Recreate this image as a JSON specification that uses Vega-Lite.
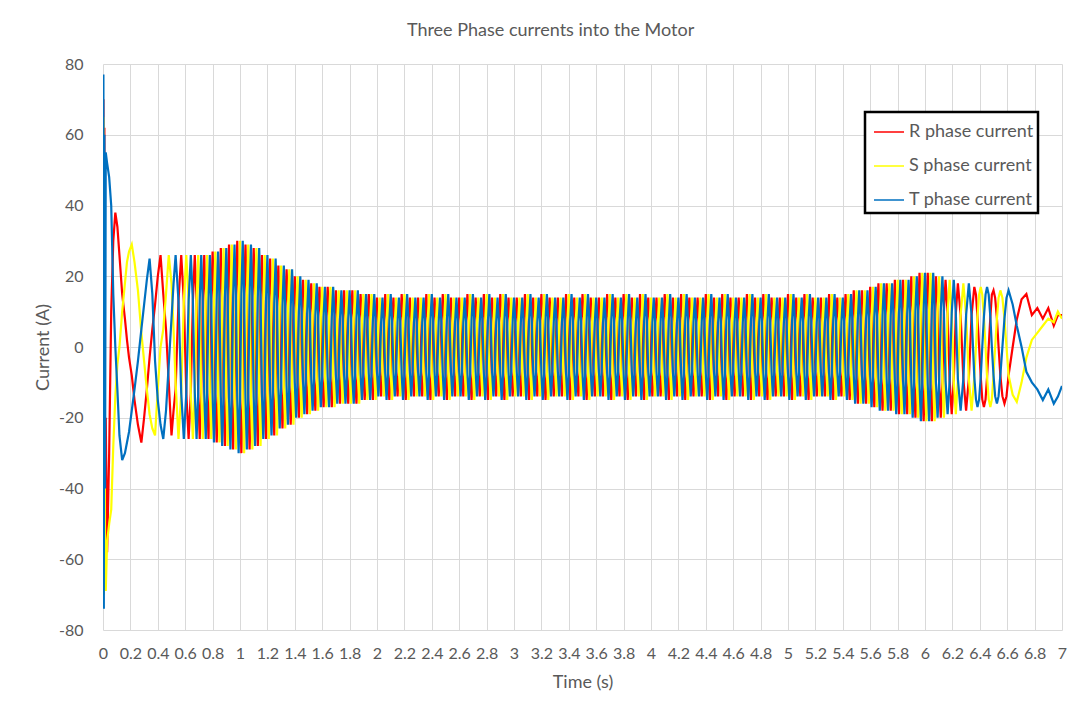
{
"$schema": "https://vega.github.io/schema/vega-lite/v6.json",
"width": 959,
"height": 566,
"autosize": {"type": "none"},
"padding": {"left": 103, "top": 64, "right": 16, "bottom": 81},
"background": "white",
"title": {"text": "Three Phase currents into the Motor", "fontSize": 18, "font": "Lato", "fontWeight": "normal", "color": "#595959", "anchor": "middle", "frame": "bounds", "offset": 16},
"data": {"values": [
{"t":0,"R":0,"S":0,"T":0},{"t":0.003,"R":70,"S":65,"T":77},{"t":0.006,"R":-30,"S":-70,"T":-74},{"t":0.01,"R":62,"S":20,"T":60},{"t":0.015,"R":-50,"S":-60,"T":-40},{"t":0.02,"R":-20,"S":-69,"T":55},{"t":0.03,"R":-58,"S":-55,"T":52},{"t":0.045,"R":-30,"S":-50,"T":48},{"t":0.06,"R":10,"S":-46,"T":40},{"t":0.075,"R":30,"S":-28,"T":15},
{"t":0.09,"R":38,"S":-14,"T":0},{"t":0.105,"R":34,"S":-5,"T":-12},{"t":0.12,"R":26,"S":0,"T":-25},{"t":0.14,"R":15,"S":10,"T":-32},{"t":0.16,"R":8,"S":18,"T":-30},{"t":0.175,"R":2,"S":24,"T":-27},{"t":0.19,"R":-3,"S":27,"T":-24},{"t":0.21,"R":-8,"S":29,"T":-18},{"t":0.23,"R":-15,"S":24,"T":-12},{"t":0.255,"R":-22,"S":16,"T":-4},
{"t":0.28,"R":-27,"S":4,"T":5},{"t":0.3,"R":-20,"S":-4,"T":12},{"t":0.32,"R":-12,"S":-12,"T":19},{"t":0.34,"R":-3,"S":-19,"T":25},{"t":0.36,"R":5,"S":-23,"T":15},{"t":0.38,"R":12,"S":-25,"T":-4},{"t":0.4,"R":20,"S":-12,"T":-15},{"t":0.42,"R":26,"S":0,"T":-22},{"t":0.44,"R":15,"S":5,"T":-26},{"t":0.46,"R":5,"S":15,"T":-18},
{"t":0.48,"R":-10,"S":26,"T":-5},{"t":0.5,"R":-25,"S":18,"T":8},{"t":0.515,"R":-18,"S":5,"T":18},{"t":0.53,"R":-12,"S":-10,"T":26},
{"t":0.551,"R":13,"S":-26,"T":13},{"t":0.571,"R":26,"S":-13,"T":-13},{"t":0.59,"R":13,"S":13,"T":-26},{"t":0.608,"R":-13,"S":26,"T":-13},{"t":0.625,"R":-26,"S":13,"T":13},{"t":0.641,"R":-13,"S":-13,"T":26},
{"t":0.656,"R":13,"S":-26,"T":13},{"t":0.67,"R":26,"S":-13,"T":-13},{"t":0.683,"R":13,"S":13,"T":-26},{"t":0.695,"R":-13,"S":26,"T":-13},{"t":0.706,"R":-26,"S":13,"T":13},{"t":0.717,"R":-13,"S":-13,"T":26},
{"t":0.728,"R":13,"S":-26,"T":13},{"t":0.739,"R":26,"S":-13,"T":-13},
{"t":0.75,"R":13,"S":13,"T":-26},{"t":0.76,"R":-13,"S":26,"T":-13},{"t":0.77,"R":-26,"S":13,"T":13},{"t":0.78,"R":-13,"S":-13,"T":26},{"t":0.79,"R":13,"S":-26,"T":13},
{"t":0.8,"R":27,"S":-13.5,"T":-13.5},{"t":0.81,"R":13.5,"S":13.5,"T":-27},{"t":0.82,"R":-13.5,"S":27,"T":-13.5},{"t":0.83,"R":-27,"S":13.5,"T":13.5},{"t":0.84,"R":-13.5,"S":-13.5,"T":27},{"t":0.85,"R":13.5,"S":-27,"T":13.5},
{"t":0.86,"R":28,"S":-14,"T":-14},{"t":0.87,"R":14,"S":14,"T":-28},{"t":0.88,"R":-14,"S":28,"T":-14},{"t":0.89,"R":-28,"S":14,"T":14},{"t":0.9,"R":-14,"S":-14,"T":28},{"t":0.91,"R":14,"S":-28,"T":14},
{"t":0.92,"R":29,"S":-14.5,"T":-14.5},{"t":0.93,"R":14.5,"S":14.5,"T":-29},{"t":0.94,"R":-14.5,"S":29,"T":-14.5},{"t":0.95,"R":-29,"S":14.5,"T":14.5},{"t":0.96,"R":-14.5,"S":-14.5,"T":29},{"t":0.97,"R":14.5,"S":-29,"T":14.5},
{"t":0.98,"R":30,"S":-15,"T":-15},{"t":0.99,"R":15,"S":15,"T":-30},{"t":1,"R":-15,"S":30,"T":-15},{"t":1.01,"R":-30,"S":15,"T":15},{"t":1.02,"R":-15,"S":-15,"T":30},{"t":1.03,"R":15,"S":-30,"T":15},
{"t":1.04,"R":29,"S":-14.5,"T":-14.5},{"t":1.05,"R":14.5,"S":14.5,"T":-29},{"t":1.06,"R":-14.5,"S":29,"T":-14.5},{"t":1.07,"R":-29,"S":14.5,"T":14.5},{"t":1.08,"R":-14.5,"S":-14.5,"T":29},{"t":1.09,"R":14.5,"S":-29,"T":14.5},
{"t":1.1,"R":28,"S":-14,"T":-14},{"t":1.11,"R":14,"S":14,"T":-28},{"t":1.12,"R":-14,"S":28,"T":-14},{"t":1.13,"R":-28,"S":14,"T":14},{"t":1.14,"R":-14,"S":-14,"T":28},{"t":1.15,"R":14,"S":-28,"T":14},
{"t":1.16,"R":26,"S":-13,"T":-13},{"t":1.17,"R":13,"S":13,"T":-26},{"t":1.18,"R":-13,"S":26,"T":-13},{"t":1.19,"R":-26,"S":13,"T":13},{"t":1.2,"R":-13,"S":-13,"T":26},{"t":1.21,"R":13,"S":-26,"T":13},
{"t":1.22,"R":25,"S":-12.5,"T":-12.5},{"t":1.23,"R":12.5,"S":12.5,"T":-25},{"t":1.24,"R":-12.5,"S":25,"T":-12.5},{"t":1.25,"R":-25,"S":12.5,"T":12.5},{"t":1.26,"R":-12.5,"S":-12.5,"T":25},{"t":1.27,"R":12.5,"S":-25,"T":12.5},
{"t":1.28,"R":23,"S":-11.5,"T":-11.5},{"t":1.29,"R":11.5,"S":11.5,"T":-23},{"t":1.3,"R":-11.5,"S":23,"T":-11.5},{"t":1.31,"R":-23,"S":11.5,"T":11.5},{"t":1.32,"R":-11.5,"S":-11.5,"T":23},{"t":1.33,"R":11.5,"S":-23,"T":11.5},
{"t":1.34,"R":22,"S":-11,"T":-11},{"t":1.35,"R":11,"S":11,"T":-22},{"t":1.36,"R":-11,"S":22,"T":-11},{"t":1.37,"R":-22,"S":11,"T":11},{"t":1.38,"R":-11,"S":-11,"T":22},{"t":1.39,"R":11,"S":-22,"T":11},
{"t":1.4,"R":20,"S":-10,"T":-10},{"t":1.41,"R":10,"S":10,"T":-20},{"t":1.42,"R":-10,"S":20,"T":-10},{"t":1.43,"R":-20,"S":10,"T":10},{"t":1.44,"R":-10,"S":-10,"T":20},{"t":1.45,"R":10,"S":-20,"T":10},
{"t":1.46,"R":19,"S":-9.5,"T":-9.5},{"t":1.47,"R":9.5,"S":9.5,"T":-19},{"t":1.48,"R":-9.5,"S":19,"T":-9.5},{"t":1.49,"R":-19,"S":9.5,"T":9.5},{"t":1.5,"R":-9.5,"S":-9.5,"T":19},{"t":1.51,"R":9.5,"S":-19,"T":9.5},
{"t":1.52,"R":18,"S":-9,"T":-9},{"t":1.53,"R":9,"S":9,"T":-18},{"t":1.54,"R":-9,"S":18,"T":-9},{"t":1.55,"R":-18,"S":9,"T":9},{"t":1.56,"R":-9,"S":-9,"T":18},{"t":1.57,"R":9,"S":-18,"T":9},
{"t":1.58,"R":17,"S":-8.5,"T":-8.5},{"t":1.59,"R":8.5,"S":8.5,"T":-17},{"t":1.6,"R":-8.5,"S":17,"T":-8.5},{"t":1.61,"R":-17,"S":8.5,"T":8.5},{"t":1.62,"R":-8.5,"S":-8.5,"T":17},{"t":1.63,"R":8.5,"S":-17,"T":8.5},
{"t":1.64,"R":17,"S":-8.5,"T":-8.5},{"t":1.65,"R":8.5,"S":8.5,"T":-17},{"t":1.66,"R":-8.5,"S":17,"T":-8.5},{"t":1.67,"R":-17,"S":8.5,"T":8.5},{"t":1.68,"R":-8.5,"S":-8.5,"T":17},{"t":1.69,"R":8.5,"S":-17,"T":8.5},
{"t":1.7,"R":16,"S":-8,"T":-8},{"t":1.71,"R":8,"S":8,"T":-16},{"t":1.72,"R":-8,"S":16,"T":-8},{"t":1.73,"R":-16,"S":8,"T":8},{"t":1.74,"R":-8,"S":-8,"T":16},{"t":1.75,"R":8,"S":-16,"T":8},
{"t":1.76,"R":16,"S":-8,"T":-8},{"t":1.77,"R":8,"S":8,"T":-16},{"t":1.78,"R":-8,"S":16,"T":-8},{"t":1.79,"R":-16,"S":8,"T":8},{"t":1.8,"R":-8,"S":-8,"T":16},{"t":1.81,"R":8,"S":-16,"T":8},
{"t":1.82,"R":16,"S":-8,"T":-8},{"t":1.83,"R":8,"S":8,"T":-16},{"t":1.84,"R":-8,"S":16,"T":-8},{"t":1.85,"R":-16,"S":8,"T":8},{"t":1.86,"R":-8,"S":-8,"T":16},{"t":1.87,"R":8,"S":-16,"T":8},
{"t":1.88,"R":15,"S":-7.5,"T":-7.5},{"t":1.89,"R":7.5,"S":7.5,"T":-15},{"t":1.9,"R":-7.5,"S":15,"T":-7.5},{"t":1.91,"R":-15,"S":7.5,"T":7.5},{"t":1.92,"R":-7.5,"S":-7.5,"T":15},{"t":1.93,"R":7.5,"S":-15,"T":7.5},
{"t":1.94,"R":15,"S":-7.5,"T":-7.5},{"t":1.95,"R":7.5,"S":7.5,"T":-15},{"t":1.96,"R":-7.5,"S":15,"T":-7.5},{"t":1.97,"R":-15,"S":7.5,"T":7.5},{"t":1.98,"R":-7.5,"S":-7.5,"T":15},{"t":1.99,"R":7.5,"S":-15,"T":7.5},
{"t":2,"R":14,"S":-7,"T":-7},{"t":2.01,"R":7,"S":7,"T":-14},{"t":2.02,"R":-7,"S":14,"T":-7},{"t":2.03,"R":-14,"S":7,"T":7},{"t":2.04,"R":-7,"S":-7,"T":14},{"t":2.05,"R":7,"S":-14,"T":7},
{"t":2.06,"R":15,"S":-7.5,"T":-7.5},{"t":2.07,"R":7.5,"S":7.5,"T":-15},{"t":2.08,"R":-7.5,"S":15,"T":-7.5},{"t":2.09,"R":-15,"S":7.5,"T":7.5},{"t":2.1,"R":-7.5,"S":-7.5,"T":15},{"t":2.11,"R":7.5,"S":-15,"T":7.5},
{"t":2.12,"R":14,"S":-7,"T":-7},{"t":2.13,"R":7,"S":7,"T":-14},{"t":2.14,"R":-7,"S":14,"T":-7},{"t":2.15,"R":-14,"S":7,"T":7},{"t":2.16,"R":-7,"S":-7,"T":14},{"t":2.17,"R":7,"S":-14,"T":7},
{"t":2.18,"R":15,"S":-7.5,"T":-7.5},{"t":2.19,"R":7.5,"S":7.5,"T":-15},{"t":2.2,"R":-7.5,"S":15,"T":-7.5},{"t":2.21,"R":-15,"S":7.5,"T":7.5},{"t":2.22,"R":-7.5,"S":-7.5,"T":15},{"t":2.23,"R":7.5,"S":-15,"T":7.5},
{"t":2.24,"R":14,"S":-7,"T":-7},{"t":2.25,"R":7,"S":7,"T":-14},{"t":2.26,"R":-7,"S":14,"T":-7},{"t":2.27,"R":-14,"S":7,"T":7},{"t":2.28,"R":-7,"S":-7,"T":14},{"t":2.29,"R":7,"S":-14,"T":7},
{"t":2.3,"R":14,"S":-7,"T":-7},{"t":2.31,"R":7,"S":7,"T":-14},{"t":2.32,"R":-7,"S":14,"T":-7},{"t":2.33,"R":-14,"S":7,"T":7},{"t":2.34,"R":-7,"S":-7,"T":14},{"t":2.35,"R":7,"S":-14,"T":7},
{"t":2.36,"R":15,"S":-7.5,"T":-7.5},{"t":2.37,"R":7.5,"S":7.5,"T":-15},{"t":2.38,"R":-7.5,"S":15,"T":-7.5},{"t":2.39,"R":-15,"S":7.5,"T":7.5},{"t":2.4,"R":-7.5,"S":-7.5,"T":15},{"t":2.41,"R":7.5,"S":-15,"T":7.5},
{"t":2.42,"R":14,"S":-7,"T":-7},{"t":2.43,"R":7,"S":7,"T":-14},{"t":2.44,"R":-7,"S":14,"T":-7},{"t":2.45,"R":-14,"S":7,"T":7},{"t":2.46,"R":-7,"S":-7,"T":14},{"t":2.47,"R":7,"S":-14,"T":7},
{"t":2.48,"R":15,"S":-7.5,"T":-7.5},{"t":2.49,"R":7.5,"S":7.5,"T":-15},{"t":2.5,"R":-7.5,"S":15,"T":-7.5},{"t":2.51,"R":-15,"S":7.5,"T":7.5},{"t":2.52,"R":-7.5,"S":-7.5,"T":15},{"t":2.53,"R":7.5,"S":-15,"T":7.5},
{"t":2.54,"R":14,"S":-7,"T":-7},{"t":2.55,"R":7,"S":7,"T":-14},{"t":2.56,"R":-7,"S":14,"T":-7},{"t":2.57,"R":-14,"S":7,"T":7},{"t":2.58,"R":-7,"S":-7,"T":14},{"t":2.59,"R":7,"S":-14,"T":7},
{"t":2.6,"R":14,"S":-7,"T":-7},{"t":2.61,"R":7,"S":7,"T":-14},{"t":2.62,"R":-7,"S":14,"T":-7},{"t":2.63,"R":-14,"S":7,"T":7},{"t":2.64,"R":-7,"S":-7,"T":14},{"t":2.65,"R":7,"S":-14,"T":7},
{"t":2.66,"R":15,"S":-7.5,"T":-7.5},{"t":2.67,"R":7.5,"S":7.5,"T":-15},{"t":2.68,"R":-7.5,"S":15,"T":-7.5},{"t":2.69,"R":-15,"S":7.5,"T":7.5},{"t":2.7,"R":-7.5,"S":-7.5,"T":15},{"t":2.71,"R":7.5,"S":-15,"T":7.5},
{"t":2.72,"R":14,"S":-7,"T":-7},{"t":2.73,"R":7,"S":7,"T":-14},{"t":2.74,"R":-7,"S":14,"T":-7},{"t":2.75,"R":-14,"S":7,"T":7},{"t":2.76,"R":-7,"S":-7,"T":14},{"t":2.77,"R":7,"S":-14,"T":7},
{"t":2.78,"R":15,"S":-7.5,"T":-7.5},{"t":2.79,"R":7.5,"S":7.5,"T":-15},{"t":2.8,"R":-7.5,"S":15,"T":-7.5},{"t":2.81,"R":-15,"S":7.5,"T":7.5},{"t":2.82,"R":-7.5,"S":-7.5,"T":15},{"t":2.83,"R":7.5,"S":-15,"T":7.5},
{"t":2.84,"R":14,"S":-7,"T":-7},{"t":2.85,"R":7,"S":7,"T":-14},{"t":2.86,"R":-7,"S":14,"T":-7},{"t":2.87,"R":-14,"S":7,"T":7},{"t":2.88,"R":-7,"S":-7,"T":14},{"t":2.89,"R":7,"S":-14,"T":7},
{"t":2.9,"R":15,"S":-7.5,"T":-7.5},{"t":2.91,"R":7.5,"S":7.5,"T":-15},{"t":2.92,"R":-7.5,"S":15,"T":-7.5},{"t":2.93,"R":-15,"S":7.5,"T":7.5},{"t":2.94,"R":-7.5,"S":-7.5,"T":15},{"t":2.95,"R":7.5,"S":-15,"T":7.5},
{"t":2.96,"R":14,"S":-7,"T":-7},{"t":2.97,"R":7,"S":7,"T":-14},{"t":2.98,"R":-7,"S":14,"T":-7},{"t":2.99,"R":-14,"S":7,"T":7},{"t":3,"R":-7,"S":-7,"T":14},{"t":3.01,"R":7,"S":-14,"T":7},
{"t":3.02,"R":14,"S":-7,"T":-7},{"t":3.03,"R":7,"S":7,"T":-14},{"t":3.04,"R":-7,"S":14,"T":-7},{"t":3.05,"R":-14,"S":7,"T":7},{"t":3.06,"R":-7,"S":-7,"T":14},{"t":3.07,"R":7,"S":-14,"T":7},
{"t":3.08,"R":15,"S":-7.5,"T":-7.5},{"t":3.09,"R":7.5,"S":7.5,"T":-15},{"t":3.1,"R":-7.5,"S":15,"T":-7.5},{"t":3.11,"R":-15,"S":7.5,"T":7.5},{"t":3.12,"R":-7.5,"S":-7.5,"T":15},{"t":3.13,"R":7.5,"S":-15,"T":7.5},
{"t":3.14,"R":14,"S":-7,"T":-7},{"t":3.15,"R":7,"S":7,"T":-14},{"t":3.16,"R":-7,"S":14,"T":-7},{"t":3.17,"R":-14,"S":7,"T":7},{"t":3.18,"R":-7,"S":-7,"T":14},{"t":3.19,"R":7,"S":-14,"T":7},
{"t":3.2,"R":15,"S":-7.5,"T":-7.5},{"t":3.21,"R":7.5,"S":7.5,"T":-15},{"t":3.22,"R":-7.5,"S":15,"T":-7.5},{"t":3.23,"R":-15,"S":7.5,"T":7.5},{"t":3.24,"R":-7.5,"S":-7.5,"T":15},{"t":3.25,"R":7.5,"S":-15,"T":7.5},
{"t":3.26,"R":14,"S":-7,"T":-7},{"t":3.27,"R":7,"S":7,"T":-14},{"t":3.28,"R":-7,"S":14,"T":-7},{"t":3.29,"R":-14,"S":7,"T":7},{"t":3.3,"R":-7,"S":-7,"T":14},{"t":3.31,"R":7,"S":-14,"T":7},
{"t":3.32,"R":14,"S":-7,"T":-7},{"t":3.33,"R":7,"S":7,"T":-14},{"t":3.34,"R":-7,"S":14,"T":-7},{"t":3.35,"R":-14,"S":7,"T":7},{"t":3.36,"R":-7,"S":-7,"T":14},{"t":3.37,"R":7,"S":-14,"T":7},
{"t":3.38,"R":15,"S":-7.5,"T":-7.5},{"t":3.39,"R":7.5,"S":7.5,"T":-15},{"t":3.4,"R":-7.5,"S":15,"T":-7.5},{"t":3.41,"R":-15,"S":7.5,"T":7.5},{"t":3.42,"R":-7.5,"S":-7.5,"T":15},{"t":3.43,"R":7.5,"S":-15,"T":7.5},
{"t":3.44,"R":14,"S":-7,"T":-7},{"t":3.45,"R":7,"S":7,"T":-14},{"t":3.46,"R":-7,"S":14,"T":-7},{"t":3.47,"R":-14,"S":7,"T":7},{"t":3.48,"R":-7,"S":-7,"T":14},{"t":3.49,"R":7,"S":-14,"T":7},
{"t":3.5,"R":15,"S":-7.5,"T":-7.5},{"t":3.51,"R":7.5,"S":7.5,"T":-15},{"t":3.52,"R":-7.5,"S":15,"T":-7.5},{"t":3.53,"R":-15,"S":7.5,"T":7.5},{"t":3.54,"R":-7.5,"S":-7.5,"T":15},{"t":3.55,"R":7.5,"S":-15,"T":7.5},
{"t":3.56,"R":14,"S":-7,"T":-7},{"t":3.57,"R":7,"S":7,"T":-14},{"t":3.58,"R":-7,"S":14,"T":-7},{"t":3.59,"R":-14,"S":7,"T":7},{"t":3.6,"R":-7,"S":-7,"T":14},{"t":3.61,"R":7,"S":-14,"T":7},
{"t":3.62,"R":14,"S":-7,"T":-7},{"t":3.63,"R":7,"S":7,"T":-14},{"t":3.64,"R":-7,"S":14,"T":-7},{"t":3.65,"R":-14,"S":7,"T":7},{"t":3.66,"R":-7,"S":-7,"T":14},{"t":3.67,"R":7,"S":-14,"T":7},
{"t":3.68,"R":15,"S":-7.5,"T":-7.5},{"t":3.69,"R":7.5,"S":7.5,"T":-15},{"t":3.7,"R":-7.5,"S":15,"T":-7.5},{"t":3.71,"R":-15,"S":7.5,"T":7.5},{"t":3.72,"R":-7.5,"S":-7.5,"T":15},{"t":3.73,"R":7.5,"S":-15,"T":7.5},
{"t":3.74,"R":14,"S":-7,"T":-7},{"t":3.75,"R":7,"S":7,"T":-14},{"t":3.76,"R":-7,"S":14,"T":-7},{"t":3.77,"R":-14,"S":7,"T":7},{"t":3.78,"R":-7,"S":-7,"T":14},{"t":3.79,"R":7,"S":-14,"T":7},
{"t":3.8,"R":15,"S":-7.5,"T":-7.5},{"t":3.81,"R":7.5,"S":7.5,"T":-15},{"t":3.82,"R":-7.5,"S":15,"T":-7.5},{"t":3.83,"R":-15,"S":7.5,"T":7.5},{"t":3.84,"R":-7.5,"S":-7.5,"T":15},{"t":3.85,"R":7.5,"S":-15,"T":7.5},
{"t":3.86,"R":14,"S":-7,"T":-7},{"t":3.87,"R":7,"S":7,"T":-14},{"t":3.88,"R":-7,"S":14,"T":-7},{"t":3.89,"R":-14,"S":7,"T":7},{"t":3.9,"R":-7,"S":-7,"T":14},{"t":3.91,"R":7,"S":-14,"T":7},
{"t":3.92,"R":15,"S":-7.5,"T":-7.5},{"t":3.93,"R":7.5,"S":7.5,"T":-15},{"t":3.94,"R":-7.5,"S":15,"T":-7.5},{"t":3.95,"R":-15,"S":7.5,"T":7.5},{"t":3.96,"R":-7.5,"S":-7.5,"T":15},{"t":3.97,"R":7.5,"S":-15,"T":7.5},
{"t":3.98,"R":14,"S":-7,"T":-7},{"t":3.99,"R":7,"S":7,"T":-14},{"t":4,"R":-7,"S":14,"T":-7},{"t":4.01,"R":-14,"S":7,"T":7},{"t":4.02,"R":-7,"S":-7,"T":14},{"t":4.03,"R":7,"S":-14,"T":7},
{"t":4.04,"R":14,"S":-7,"T":-7},{"t":4.05,"R":7,"S":7,"T":-14},{"t":4.06,"R":-7,"S":14,"T":-7},{"t":4.07,"R":-14,"S":7,"T":7},{"t":4.08,"R":-7,"S":-7,"T":14},{"t":4.09,"R":7,"S":-14,"T":7},
{"t":4.1,"R":15,"S":-7.5,"T":-7.5},{"t":4.11,"R":7.5,"S":7.5,"T":-15},{"t":4.12,"R":-7.5,"S":15,"T":-7.5},{"t":4.13,"R":-15,"S":7.5,"T":7.5},{"t":4.14,"R":-7.5,"S":-7.5,"T":15},{"t":4.15,"R":7.5,"S":-15,"T":7.5},
{"t":4.16,"R":14,"S":-7,"T":-7},{"t":4.17,"R":7,"S":7,"T":-14},{"t":4.18,"R":-7,"S":14,"T":-7},{"t":4.19,"R":-14,"S":7,"T":7},{"t":4.2,"R":-7,"S":-7,"T":14},{"t":4.21,"R":7,"S":-14,"T":7},
{"t":4.22,"R":15,"S":-7.5,"T":-7.5},{"t":4.23,"R":7.5,"S":7.5,"T":-15},{"t":4.24,"R":-7.5,"S":15,"T":-7.5},{"t":4.25,"R":-15,"S":7.5,"T":7.5},{"t":4.26,"R":-7.5,"S":-7.5,"T":15},{"t":4.27,"R":7.5,"S":-15,"T":7.5},
{"t":4.28,"R":14,"S":-7,"T":-7},{"t":4.29,"R":7,"S":7,"T":-14},{"t":4.3,"R":-7,"S":14,"T":-7},{"t":4.31,"R":-14,"S":7,"T":7},{"t":4.32,"R":-7,"S":-7,"T":14},{"t":4.33,"R":7,"S":-14,"T":7},
{"t":4.34,"R":14,"S":-7,"T":-7},{"t":4.35,"R":7,"S":7,"T":-14},{"t":4.36,"R":-7,"S":14,"T":-7},{"t":4.37,"R":-14,"S":7,"T":7},{"t":4.38,"R":-7,"S":-7,"T":14},{"t":4.39,"R":7,"S":-14,"T":7},
{"t":4.4,"R":15,"S":-7.5,"T":-7.5},{"t":4.41,"R":7.5,"S":7.5,"T":-15},{"t":4.42,"R":-7.5,"S":15,"T":-7.5},{"t":4.43,"R":-15,"S":7.5,"T":7.5},{"t":4.44,"R":-7.5,"S":-7.5,"T":15},{"t":4.45,"R":7.5,"S":-15,"T":7.5},
{"t":4.46,"R":14,"S":-7,"T":-7},{"t":4.47,"R":7,"S":7,"T":-14},{"t":4.48,"R":-7,"S":14,"T":-7},{"t":4.49,"R":-14,"S":7,"T":7},{"t":4.5,"R":-7,"S":-7,"T":14},{"t":4.51,"R":7,"S":-14,"T":7},
{"t":4.52,"R":15,"S":-7.5,"T":-7.5},{"t":4.53,"R":7.5,"S":7.5,"T":-15},{"t":4.54,"R":-7.5,"S":15,"T":-7.5},{"t":4.55,"R":-15,"S":7.5,"T":7.5},{"t":4.56,"R":-7.5,"S":-7.5,"T":15},{"t":4.57,"R":7.5,"S":-15,"T":7.5},
{"t":4.58,"R":14,"S":-7,"T":-7},{"t":4.59,"R":7,"S":7,"T":-14},{"t":4.6,"R":-7,"S":14,"T":-7},{"t":4.61,"R":-14,"S":7,"T":7},{"t":4.62,"R":-7,"S":-7,"T":14},{"t":4.63,"R":7,"S":-14,"T":7},
{"t":4.64,"R":14,"S":-7,"T":-7},{"t":4.65,"R":7,"S":7,"T":-14},{"t":4.66,"R":-7,"S":14,"T":-7},{"t":4.67,"R":-14,"S":7,"T":7},{"t":4.68,"R":-7,"S":-7,"T":14},{"t":4.69,"R":7,"S":-14,"T":7},
{"t":4.7,"R":15,"S":-7.5,"T":-7.5},{"t":4.71,"R":7.5,"S":7.5,"T":-15},{"t":4.72,"R":-7.5,"S":15,"T":-7.5},{"t":4.73,"R":-15,"S":7.5,"T":7.5},{"t":4.74,"R":-7.5,"S":-7.5,"T":15},{"t":4.75,"R":7.5,"S":-15,"T":7.5},
{"t":4.76,"R":14,"S":-7,"T":-7},{"t":4.77,"R":7,"S":7,"T":-14},{"t":4.78,"R":-7,"S":14,"T":-7},{"t":4.79,"R":-14,"S":7,"T":7},{"t":4.8,"R":-7,"S":-7,"T":14},{"t":4.81,"R":7,"S":-14,"T":7},
{"t":4.82,"R":15,"S":-7.5,"T":-7.5},{"t":4.83,"R":7.5,"S":7.5,"T":-15},{"t":4.84,"R":-7.5,"S":15,"T":-7.5},{"t":4.85,"R":-15,"S":7.5,"T":7.5},{"t":4.86,"R":-7.5,"S":-7.5,"T":15},{"t":4.87,"R":7.5,"S":-15,"T":7.5},
{"t":4.88,"R":14,"S":-7,"T":-7},{"t":4.89,"R":7,"S":7,"T":-14},{"t":4.9,"R":-7,"S":14,"T":-7},{"t":4.91,"R":-14,"S":7,"T":7},{"t":4.92,"R":-7,"S":-7,"T":14},{"t":4.93,"R":7,"S":-14,"T":7},
{"t":4.94,"R":14,"S":-7,"T":-7},{"t":4.95,"R":7,"S":7,"T":-14},{"t":4.96,"R":-7,"S":14,"T":-7},{"t":4.97,"R":-14,"S":7,"T":7},{"t":4.98,"R":-7,"S":-7,"T":14},{"t":4.99,"R":7,"S":-14,"T":7},
{"t":5,"R":15,"S":-7.5,"T":-7.5},{"t":5.01,"R":7.5,"S":7.5,"T":-15},{"t":5.02,"R":-7.5,"S":15,"T":-7.5},{"t":5.03,"R":-15,"S":7.5,"T":7.5},{"t":5.04,"R":-7.5,"S":-7.5,"T":15},{"t":5.05,"R":7.5,"S":-15,"T":7.5},
{"t":5.06,"R":14,"S":-7,"T":-7},{"t":5.07,"R":7,"S":7,"T":-14},{"t":5.08,"R":-7,"S":14,"T":-7},{"t":5.09,"R":-14,"S":7,"T":7},{"t":5.1,"R":-7,"S":-7,"T":14},{"t":5.11,"R":7,"S":-14,"T":7},
{"t":5.12,"R":15,"S":-7.5,"T":-7.5},{"t":5.13,"R":7.5,"S":7.5,"T":-15},{"t":5.14,"R":-7.5,"S":15,"T":-7.5},{"t":5.15,"R":-15,"S":7.5,"T":7.5},{"t":5.16,"R":-7.5,"S":-7.5,"T":15},{"t":5.17,"R":7.5,"S":-15,"T":7.5},
{"t":5.18,"R":14,"S":-7,"T":-7},{"t":5.19,"R":7,"S":7,"T":-14},{"t":5.2,"R":-7,"S":14,"T":-7},{"t":5.21,"R":-14,"S":7,"T":7},{"t":5.22,"R":-7,"S":-7,"T":14},{"t":5.23,"R":7,"S":-14,"T":7},
{"t":5.24,"R":14,"S":-7,"T":-7},{"t":5.25,"R":7,"S":7,"T":-14},{"t":5.26,"R":-7,"S":14,"T":-7},{"t":5.27,"R":-14,"S":7,"T":7},{"t":5.28,"R":-7,"S":-7,"T":14},{"t":5.29,"R":7,"S":-14,"T":7},
{"t":5.3,"R":15,"S":-7.5,"T":-7.5},{"t":5.31,"R":7.5,"S":7.5,"T":-15},{"t":5.32,"R":-7.5,"S":15,"T":-7.5},{"t":5.33,"R":-15,"S":7.5,"T":7.5},{"t":5.34,"R":-7.5,"S":-7.5,"T":15},{"t":5.35,"R":7.5,"S":-15,"T":7.5},
{"t":5.36,"R":14,"S":-7,"T":-7},{"t":5.37,"R":7,"S":7,"T":-14},{"t":5.38,"R":-7,"S":14,"T":-7},{"t":5.39,"R":-14,"S":7,"T":7},{"t":5.4,"R":-7,"S":-7,"T":14},{"t":5.41,"R":7,"S":-14,"T":7},
{"t":5.42,"R":15,"S":-7.5,"T":-7.5},{"t":5.43,"R":7.5,"S":7.5,"T":-15},{"t":5.44,"R":-7.5,"S":15,"T":-7.5},{"t":5.45,"R":-15,"S":7.5,"T":7.5},{"t":5.46,"R":-7.5,"S":-7.5,"T":15},{"t":5.47,"R":7.5,"S":-15,"T":7.5},
{"t":5.48,"R":16,"S":-8,"T":-8},{"t":5.49,"R":8,"S":8,"T":-16},{"t":5.5,"R":-8,"S":16,"T":-8},{"t":5.51,"R":-16,"S":8,"T":8},{"t":5.52,"R":-8,"S":-8,"T":16},{"t":5.53,"R":8,"S":-16,"T":8},
{"t":5.54,"R":16,"S":-8,"T":-8},{"t":5.55,"R":8,"S":8,"T":-16},{"t":5.56,"R":-8,"S":16,"T":-8},{"t":5.57,"R":-16,"S":8,"T":8},{"t":5.58,"R":-8,"S":-8,"T":16},{"t":5.59,"R":8,"S":-16,"T":8},
{"t":5.6,"R":17,"S":-8.5,"T":-8.5},{"t":5.61,"R":8.5,"S":8.5,"T":-17},{"t":5.62,"R":-8.5,"S":17,"T":-8.5},{"t":5.63,"R":-17,"S":8.5,"T":8.5},{"t":5.64,"R":-8.5,"S":-8.5,"T":17},{"t":5.65,"R":8.5,"S":-17,"T":8.5},
{"t":5.66,"R":18,"S":-9,"T":-9},{"t":5.67,"R":9,"S":9,"T":-18},{"t":5.68,"R":-9,"S":18,"T":-9},{"t":5.69,"R":-18,"S":9,"T":9},{"t":5.7,"R":-9,"S":-9,"T":18},{"t":5.71,"R":9,"S":-18,"T":9},
{"t":5.72,"R":18,"S":-9,"T":-9},{"t":5.73,"R":9,"S":9,"T":-18},{"t":5.74,"R":-9,"S":18,"T":-9},{"t":5.75,"R":-18,"S":9,"T":9},{"t":5.76,"R":-9,"S":-9,"T":18},{"t":5.77,"R":9,"S":-18,"T":9},
{"t":5.78,"R":19,"S":-9.5,"T":-9.5},{"t":5.79,"R":9.5,"S":9.5,"T":-19},{"t":5.8,"R":-9.5,"S":19,"T":-9.5},{"t":5.81,"R":-19,"S":9.5,"T":9.5},{"t":5.82,"R":-9.5,"S":-9.5,"T":19},{"t":5.83,"R":9.5,"S":-19,"T":9.5},
{"t":5.84,"R":19,"S":-9.5,"T":-9.5},{"t":5.85,"R":9.5,"S":9.5,"T":-19},{"t":5.86,"R":-9.5,"S":19,"T":-9.5},{"t":5.87,"R":-19,"S":9.5,"T":9.5},{"t":5.88,"R":-9.5,"S":-9.5,"T":19},{"t":5.89,"R":9.5,"S":-19,"T":9.5},
{"t":5.9,"R":20,"S":-10,"T":-10},{"t":5.91,"R":10,"S":10,"T":-20},{"t":5.92,"R":-10,"S":20,"T":-10},{"t":5.93,"R":-20,"S":10,"T":10},{"t":5.94,"R":-10,"S":-10,"T":20},{"t":5.95,"R":10,"S":-20,"T":10},
{"t":5.96,"R":21,"S":-10.5,"T":-10.5},{"t":5.97,"R":10.5,"S":10.5,"T":-21},{"t":5.98,"R":-10.5,"S":21,"T":-10.5},{"t":5.99,"R":-21,"S":10.5,"T":10.5},{"t":6,"R":-10.5,"S":-10.5,"T":21},{"t":6.01,"R":10.5,"S":-21,"T":10.5},
{"t":6.02,"R":21,"S":-10.5,"T":-10.5},{"t":6.03,"R":10.5,"S":10.5,"T":-21},{"t":6.04,"R":-10.5,"S":21,"T":-10.5},{"t":6.05,"R":-21,"S":10.5,"T":10.5},{"t":6.06,"R":-10.5,"S":-10.5,"T":21},{"t":6.07,"R":10.5,"S":-21,"T":10.5},
{"t":6.08,"R":20,"S":-10,"T":-10},{"t":6.092,"R":10,"S":10,"T":-20},{"t":6.103,"R":-10,"S":20,"T":-10},{"t":6.115,"R":-20,"S":10,"T":10},{"t":6.127,"R":-10,"S":-10,"T":20},{"t":6.138,"R":10,"S":-20,"T":10},
{"t":6.15,"R":19,"S":-9.5,"T":-9.5},{"t":6.165,"R":9.5,"S":9.5,"T":-19},{"t":6.18,"R":-9.5,"S":19,"T":-9.5},{"t":6.195,"R":-19,"S":9.5,"T":9.5},{"t":6.21,"R":-9.5,"S":-9.5,"T":19},{"t":6.225,"R":9.5,"S":-19,"T":9.5},
{"t":6.24,"R":18,"S":-9,"T":-9},{"t":6.26,"R":9,"S":9,"T":-18},{"t":6.28,"R":-9,"S":18,"T":-9},{"t":6.3,"R":-18,"S":9,"T":9},{"t":6.32,"R":-9,"S":-9,"T":18},{"t":6.34,"R":9,"S":-18,"T":9},
{"t":6.36,"R":17,"S":-8.5,"T":-8.5},{"t":6.372,"R":14.8,"S":0,"T":-14.8},{"t":6.383,"R":8.5,"S":8.5,"T":-17},{"t":6.395,"R":0,"S":14.8,"T":-14.8},{"t":6.407,"R":-8.5,"S":17,"T":-8.5},{"t":6.418,"R":-14.8,"S":14.8,"T":0},
{"t":6.43,"R":-17,"S":8.5,"T":8.5},{"t":6.442,"R":-14.8,"S":0,"T":14.8},{"t":6.453,"R":-8.5,"S":-8.5,"T":17},{"t":6.465,"R":0,"S":-14.8,"T":14.8},{"t":6.477,"R":8.5,"S":-17,"T":8.5},{"t":6.488,"R":14.8,"S":-14.8,"T":0},
{"t":6.5,"R":16,"S":-8,"T":-8},{"t":6.512,"R":13.9,"S":0,"T":-13.9},{"t":6.525,"R":8,"S":8,"T":-16},{"t":6.537,"R":0,"S":13.9,"T":-13.9},{"t":6.55,"R":-8,"S":16,"T":-8},{"t":6.565,"R":-13.9,"S":13.9,"T":0},
{"t":6.58,"R":-16,"S":8,"T":8},{"t":6.595,"R":-13.9,"S":0,"T":13.9},{"t":6.61,"R":-8,"S":-8,"T":16},{"t":6.64,"R":0,"S":-13.5,"T":12},{"t":6.67,"R":7.8,"S":-15.5,"T":6},{"t":6.705,"R":13.5,"S":-10,"T":0},
{"t":6.74,"R":15,"S":-3,"T":-7},{"t":6.78,"R":9,"S":2,"T":-10},{"t":6.82,"R":11,"S":4,"T":-12},{"t":6.86,"R":8,"S":6,"T":-15},{"t":6.9,"R":11,"S":8,"T":-12},{"t":6.94,"R":6,"S":7,"T":-16},{"t":6.97,"R":9,"S":10,"T":-14},{"t":7,"R":9,"S":8,"T":-11}
]},
"encoding": {
  "x": {"field": "t", "type": "quantitative", "scale": {"domain": [0, 7], "nice": false, "zero": false},
    "axis": {"values": [0,0.2,0.4,0.6,0.8,1,1.2,1.4,1.6,1.8,2,2.2,2.4,2.6,2.8,3,3.2,3.4,3.6,3.8,4,4.2,4.4,4.6,4.8,5,5.2,5.4,5.6,5.8,6,6.2,6.4,6.6,6.8,7],
      "format": "~g", "title": "Time (s)", "grid": true, "labelPadding": 15, "titlePadding": 12, "labelFlush": false, "labelOverlap": false}}
},
"layer": [
  {"mark": {"type": "line", "strokeWidth": 2.2, "clip": true},
   "encoding": {
     "y": {"field": "R", "type": "quantitative", "scale": {"domain": [-80, 80], "nice": false},
       "axis": {"values": [-80,-60,-40,-20,0,20,40,60,80], "labelExpr": "toString(datum.value)", "title": "Current (A)", "grid": true, "labelPadding": 20, "titlePadding": 6}},
     "color": {"datum": "R phase current", "type": "nominal",
       "scale": {"domain": ["R phase current", "S phase current", "T phase current"], "range": ["#ff0000", "#ffff00", "#0070c0"]},
       "legend": {"title": null}}}},
  {"mark": {"type": "line", "strokeWidth": 2.2, "clip": true},
   "encoding": {
     "y": {"field": "S", "type": "quantitative", "scale": {"domain": [-80, 80], "nice": false},
       "axis": {"values": [-80,-60,-40,-20,0,20,40,60,80], "labelExpr": "toString(datum.value)", "title": "Current (A)", "grid": true, "labelPadding": 20, "titlePadding": 6}},
     "color": {"datum": "S phase current", "type": "nominal",
       "scale": {"domain": ["R phase current", "S phase current", "T phase current"], "range": ["#ff0000", "#ffff00", "#0070c0"]},
       "legend": {"title": null}}}},
  {"mark": {"type": "line", "strokeWidth": 2.2, "clip": true},
   "encoding": {
     "y": {"field": "T", "type": "quantitative", "scale": {"domain": [-80, 80], "nice": false},
       "axis": {"values": [-80,-60,-40,-20,0,20,40,60,80], "labelExpr": "toString(datum.value)", "title": "Current (A)", "grid": true, "labelPadding": 20, "titlePadding": 6}},
     "color": {"datum": "T phase current", "type": "nominal",
       "scale": {"domain": ["R phase current", "S phase current", "T phase current"], "range": ["#ff0000", "#ffff00", "#0070c0"]},
       "legend": {"title": null}}}}
],
"config": {
  "font": "Lato",
  "view": {"stroke": null},
  "axis": {"labelFont": "Lato", "titleFont": "Lato", "labelColor": "#595959", "titleColor": "#595959", "labelFontSize": 16, "titleFontSize": 18, "titleFontWeight": "normal", "gridColor": "#d9d9d9", "gridWidth": 1, "domain": false, "ticks": false, "tickSize": 0},
  "legend": {"orient": "none", "legendX": 762, "legendY": 48, "strokeColor": "black", "strokeWidth": 2.5, "fillColor": "white", "padding": 4, "symbolType": "stroke", "symbolSize": 900, "symbolStrokeWidth": 1.5, "symbolOffset": 4, "labelFont": "Lato", "labelFontSize": 18, "labelColor": "#595959", "labelOffset": 4, "rowPadding": 9}
}
}
